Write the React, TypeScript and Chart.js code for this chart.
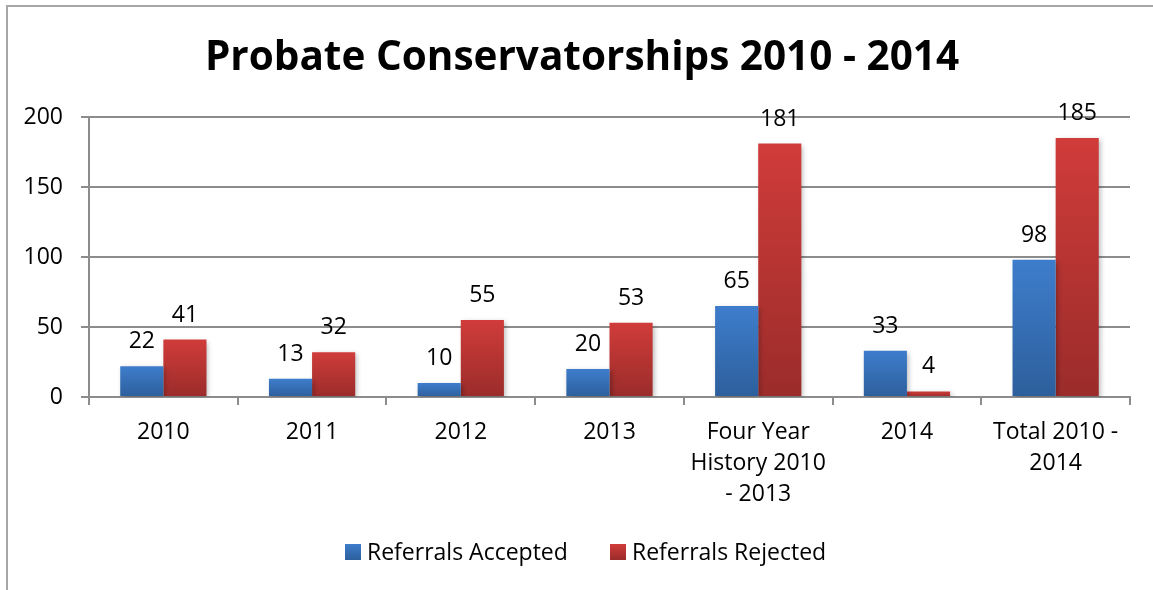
import React, { useEffect, useRef } from "react";
import { Chart, registerables } from "chart.js";

Chart.register(...registerables);

const categories: (string | string[])[] = [
  "2010",
  "2011",
  "2012",
  "2013",
  ["Four Year", "History 2010", "- 2013"],
  "2014",
  ["Total 2010 -", "2014"],
];
const accepted = [22, 13, 10, 20, 65, 33, 98];
const rejected = [41, 32, 55, 53, 181, 4, 185];
const seriesNames = ["Referrals Accepted", "Referrals Rejected"];
const yTicks = [0, 50, 100, 150, 200];
const titleText = "Probate Conservatorships 2010 - 2014";

const FONT = "'Open Sans', sans-serif";
const BLUE = ["#3e7dcc", "#2d5f9c"];
const RED = ["#d03c3a", "#9a2c2a"];

function barGradient(ctx: any, top: string, bottom: string) {
  const chart = ctx.chart;
  const area = chart.chartArea;
  if (!area) return top;
  const y = chart.scales.y;
  const v = ctx.raw ?? 0;
  const y0 = y.getPixelForValue(v);
  const y1 = y.getPixelForValue(0);
  if (!isFinite(y0) || y1 - y0 < 1) return bottom;
  const g = chart.ctx.createLinearGradient(0, y0, 0, y1);
  g.addColorStop(0, top);
  g.addColorStop(1, bottom);
  return g;
}

const framePlugin = {
  id: "frame",
  beforeDraw(chart: any) {
    const c = chart.ctx;
    c.save();
    c.fillStyle = "#ffffff";
    c.fillRect(0, 0, chart.width, chart.height);
    c.strokeStyle = "#a6a6a6";
    c.lineWidth = 2;
    c.beginPath();
    c.moveTo(7, chart.height);
    c.lineTo(7, 6);
    c.lineTo(chart.width, 6);
    c.stroke();
    c.restore();
  },
  afterDraw(chart: any) {
    const c = chart.ctx;
    c.save();
    // title
    c.font = `bold 40.5px ${FONT}`;
    c.fillStyle = "#000";
    c.textAlign = "center";
    c.textBaseline = "middle";
    c.fillText(titleText, 582, 58);
    // legend
    c.font = `23px ${FONT}`;
    c.textAlign = "left";
    const items = [
      { text: seriesNames[0], x: 345, colors: BLUE },
      { text: seriesNames[1], x: 610, colors: RED },
    ];
    items.forEach((it) => {
      const g = c.createLinearGradient(0, 544, 0, 560);
      g.addColorStop(0, it.colors[0]);
      g.addColorStop(1, it.colors[1]);
      c.fillStyle = g;
      c.fillRect(it.x, 544, 16, 16);
      c.fillStyle = "#000";
      c.fillText(it.text, it.x + 22, 553);
    });
    c.restore();
  },
};

const shadowPlugin = {
  id: "barShadow",
  beforeDatasetsDraw(chart: any) {
    const c = chart.ctx;
    c.save();
    c.shadowColor = "rgba(0,0,0,0.28)";
    c.shadowBlur = 5;
    c.shadowOffsetX = 2;
    c.shadowOffsetY = 2;
  },
  afterDatasetsDraw(chart: any) {
    chart.ctx.restore();
  },
};

const labelPlugin = {
  id: "valueLabels",
  afterDatasetsDraw(chart: any) {
    const c = chart.ctx;
    c.save();
    c.font = `23px ${FONT}`;
    c.fillStyle = "#000";
    c.textAlign = "center";
    c.textBaseline = "alphabetic";
    chart.data.datasets.forEach((ds: any, i: number) => {
      const meta = chart.getDatasetMeta(i);
      meta.data.forEach((bar: any, j: number) => {
        c.fillText(String(ds.data[j]), bar.x, bar.y - 18);
      });
    });
    c.restore();
  },
};

export default function App() {
  const ref = useRef<HTMLCanvasElement>(null);
  useEffect(() => {
    document.body.style.margin = "0";
    const chart = new Chart(ref.current!, {
      type: "bar",
      data: {
        labels: categories,
        datasets: [
          {
            label: seriesNames[0],
            data: accepted,
            backgroundColor: (ctx: any) => barGradient(ctx, BLUE[0], BLUE[1]),
            categoryPercentage: 0.58,
            barPercentage: 1,
          },
          {
            label: seriesNames[1],
            data: rejected,
            backgroundColor: (ctx: any) => barGradient(ctx, RED[0], RED[1]),
            categoryPercentage: 0.58,
            barPercentage: 1,
          },
        ],
      },
      options: {
        animation: false,
        responsive: false,
        layout: { padding: { left: 0, right: 23, top: 117, bottom: 58 } },
        plugins: {
          title: { display: false },
          legend: { display: false },
          tooltip: { enabled: false },
        },
        scales: {
          x: {
            grid: {
              offset: true,
              drawOnChartArea: false,
              drawTicks: true,
              tickLength: 8,
              color: "#8c8c8c",
              lineWidth: 2,
            },
            border: { display: true, color: "#8c8c8c", width: 2 },
            ticks: {
              color: "#000",
              font: { family: FONT, size: 23, lineHeight: 1.35 },
              padding: 12,
              maxRotation: 0,
              autoSkip: false,
            },
            afterFit: (s: any) => {
              s.height = 135;
            },
          },
          y: {
            min: 0,
            max: 200,
            afterBuildTicks: (s: any) => {
              s.ticks = yTicks.map((v) => ({ value: v }));
            },
            grid: {
              color: "#8c8c8c",
              lineWidth: 2,
              tickLength: 8,
            },
            border: { display: true, color: "#8c8c8c", width: 2 },
            ticks: {
              color: "#000",
              font: { family: FONT, size: 23 },
              padding: 18,
            },
            afterFit: (s: any) => {
              s.width = 89;
            },
          },
        },
      },
      plugins: [framePlugin, shadowPlugin, labelPlugin],
    });
    return () => chart.destroy();
  }, []);
  return (
    <div style={{ width: 1153, height: 590 }}>
      <canvas ref={ref} width={1153} height={590} style={{ display: "block" }} />
    </div>
  );
}
